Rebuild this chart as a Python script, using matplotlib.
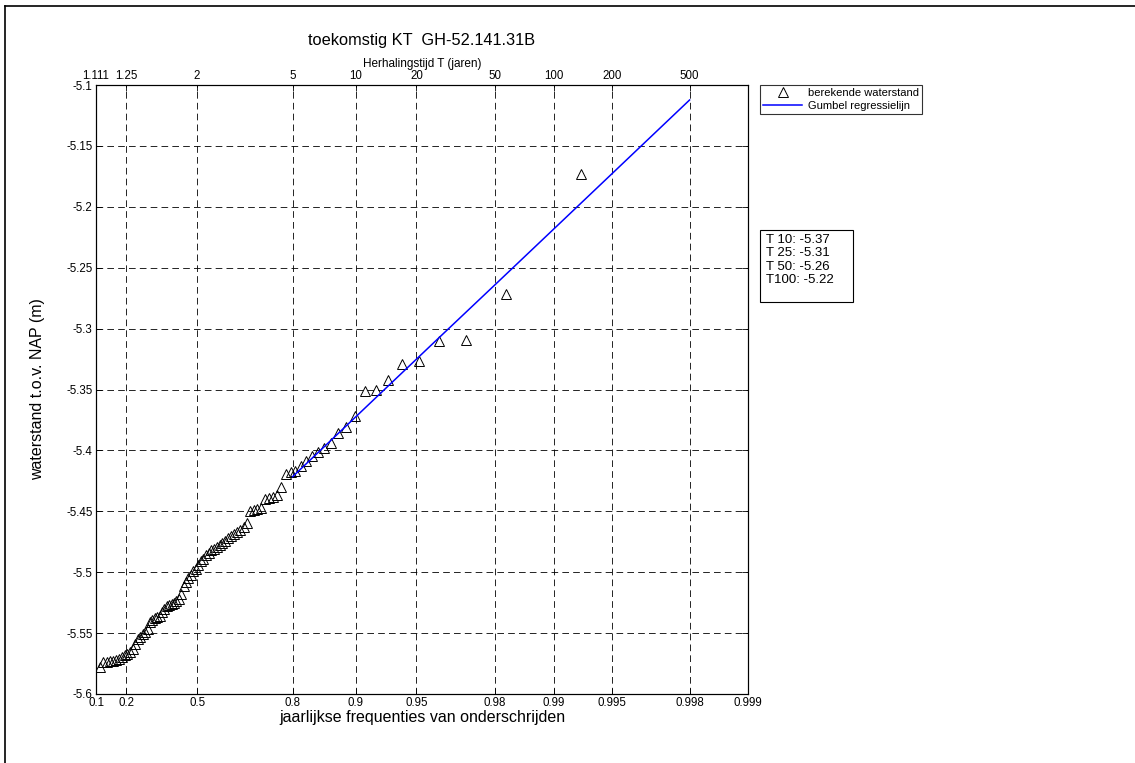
import numpy as np
import matplotlib
matplotlib.use('Agg')
import matplotlib.pyplot as plt
from matplotlib.lines import Line2D
from matplotlib.patches import Rectangle

plt.rcParams['font.family'] = ['Liberation Sans', 'DejaVu Sans']

# ---- data ----
N_YEARS = 96
# jaarmaxima, oplopend gesorteerd, rang 11..96 (lagere rangen vallen links buiten de as)
ranks = np.arange(11, 97)
levels = [-5.578, -5.5735, -5.5735, -5.573, -5.573, -5.572, -5.571, -5.570, -5.568, -5.567,
          -5.5655, -5.563, -5.559, -5.555, -5.553, -5.551, -5.549, -5.547, -5.541, -5.539,
          -5.538, -5.537, -5.536, -5.533, -5.530, -5.528, -5.527, -5.526, -5.525, -5.524,
          -5.522, -5.518, -5.511, -5.508, -5.505, -5.502, -5.499, -5.497, -5.494, -5.491,
          -5.489, -5.486, -5.484, -5.482, -5.481, -5.479, -5.478, -5.476, -5.474, -5.472,
          -5.470, -5.469, -5.467, -5.465, -5.463, -5.460, -5.450, -5.449, -5.448, -5.447,
          -5.440, -5.439, -5.438, -5.437, -5.430, -5.419, -5.418, -5.417, -5.413, -5.409,
          -5.405, -5.401, -5.398, -5.394, -5.386, -5.381, -5.372, -5.351, -5.350, -5.342,
          -5.329, -5.327, -5.310, -5.309, -5.272, -5.173]

# regressielijn (Gumbel)
reg_F = [0.8, 0.9, 0.96, 0.98, 0.99, 0.998]
reg_h = [-5.4216, -5.3724, -5.3101, -5.2641, -5.2183, -5.1123]

freq_ticks = [0.1, 0.2, 0.5, 0.8, 0.9, 0.95, 0.98, 0.99, 0.995, 0.998, 0.999]
freq_labels = ['0.1', '0.2', '0.5', '0.8', '0.9', '0.95', '0.98', '0.99', '0.995', '0.998', '0.999']
T_ticks = [1.111111, 1.25, 2, 5, 10, 20, 50, 100, 200, 500]
T_labels = ['1.111', '1.25', '2', '5', '10', '20', '50', '100', '200', '500']
level_ticks = [-5.6, -5.55, -5.5, -5.45, -5.4, -5.35, -5.3, -5.25, -5.2, -5.15, -5.1]
level_labels = ['-5.6', '-5.55', '-5.5', '-5.45', '-5.4', '-5.35', '-5.3', '-5.25', '-5.2', '-5.15', '-5.1']

box_text = 'T 10: -5.37\nT 25: -5.31\nT 50: -5.26\nT100: -5.22'


def gumbel(F):
    return -np.log(-np.log(np.asarray(F, dtype=float)))


# plotposities (mediaan-rang)
F_pts = (ranks - 0.3) / (N_YEARS + 0.4)

# ---- figuur ----
W, H = 1135, 763
fig = plt.figure(figsize=(W / 100, H / 100), dpi=100)
ax = fig.add_axes([96 / W, 1 - 694 / H, (748 - 96) / W, (694 - 85) / H])

ax.plot(gumbel(F_pts), levels, linestyle='none', marker='^', mfc='none', mec='k',
        ms=6.5, mew=0.7, label='berekende waterstand')
ax.plot(gumbel(reg_F), reg_h, color='blue', lw=1.1, label='Gumbel regressielijn')

xlim = (gumbel(0.1), gumbel(0.999))
ax.set_xlim(xlim)
ax.set_ylim(-5.6, -5.1)
ax.set_xticks(gumbel(freq_ticks))
ax.set_xticklabels(freq_labels)
ax.set_yticks(level_ticks)
ax.set_yticklabels(level_labels)
ax.grid(True, linestyle=(0, (8, 5)), color='k', lw=0.6)
ax.tick_params(direction='in', length=4, width=0.6, labelsize=8.3, right=True, pad=2.5)
for s in ax.spines.values():
    s.set_linewidth(0.8)
ax.set_xlabel('jaarlijkse frequenties van onderschrijden', fontsize=11.5)
ax.xaxis.set_label_coords(0.5, (694 - 710) / 609)
ax.set_ylabel('waterstand t.o.v. NAP (m)', fontsize=11.5)
ax.yaxis.set_label_coords((45 - 96) / 652, 0.5)

# bovenas: herhalingstijd
ax2 = ax.twiny()
ax2.set_xlim(xlim)
ax2.set_xticks(gumbel([1 - 1 / t for t in T_ticks]))
ax2.set_xticklabels(T_labels)
ax2.tick_params(direction='in', length=4, width=0.6, labelsize=8.3, pad=2)
ax2.set_xlabel('Herhalingstijd T (jaren)', fontsize=8.5, labelpad=2)

fig.text(422 / W, 1 - 41 / H, 'toekomstig KT  GH-52.141.31B', ha='center', va='center',
         fontsize=11.8)

# legenda
leg = fig.legend(loc='upper left', bbox_to_anchor=(760 / W, 1 - 85 / H), fontsize=8,
                 frameon=True, fancybox=False, edgecolor='k', borderaxespad=0,
                 handlelength=3.5, borderpad=0.3, labelspacing=0.25, handletextpad=0.5)
leg.get_frame().set_linewidth(0.8)

# tekstvak met herhalingswaarden
fig.add_artist(Rectangle((760 / W, 1 - 302 / H), 93 / W, 72 / H, transform=fig.transFigure,
                         fill=False, ec='k', lw=0.8))
fig.text(766 / W, 1 - 234 / H, box_text, ha='left', va='top', fontsize=9.5, linespacing=1.15)

# kader figuur
fig.add_artist(Line2D([5 / W, 5 / W], [0, 1 - 6 / H], transform=fig.transFigure, color='k', lw=1.2))
fig.add_artist(Line2D([5 / W, 1], [1 - 6 / H, 1 - 6 / H], transform=fig.transFigure, color='k', lw=1.2))

fig.savefig('out.png', dpi=100)
